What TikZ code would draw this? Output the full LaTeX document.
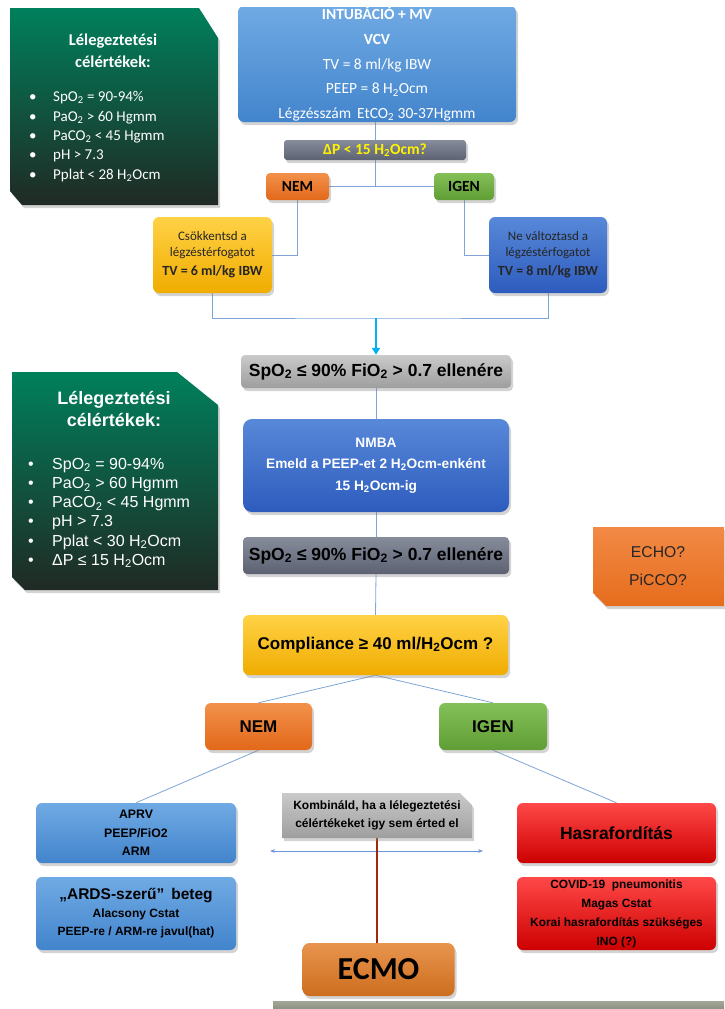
\documentclass[tikz,border=0pt]{standalone}
\usepackage{fontspec}
\setmainfont{Carlito}
\newfontfamily\arialf{Liberation Sans}
\usetikzlibrary{shadows,backgrounds,shapes.misc,arrows.meta}
\definecolor{celtop}{RGB}{0,128,92}
\definecolor{celbot}{RGB}{32,42,36}
\definecolor{kektop}{RGB}{112,170,228}
\definecolor{kekbot}{RGB}{66,132,204}
\definecolor{sotetkektop}{RGB}{88,136,216}
\definecolor{sotetkekbot}{RGB}{45,92,190}
\definecolor{palatop}{RGB}{135,140,155}
\definecolor{palabot}{RGB}{92,98,114}
\definecolor{szurketop}{RGB}{202,202,202}
\definecolor{szurkebot}{RGB}{158,158,158}
\definecolor{nemtop}{RGB}{242,145,75}
\definecolor{nembot}{RGB}{226,104,26}
\definecolor{igentop}{RGB}{132,192,88}
\definecolor{igenbot}{RGB}{95,158,52}
\definecolor{sargatop}{RGB}{255,210,70}
\definecolor{sargabot}{RGB}{240,172,0}
\definecolor{pirostop}{RGB}{255,72,72}
\definecolor{pirosbot}{RGB}{205,0,0}
\definecolor{ecmotop}{RGB}{232,148,78}
\definecolor{ecmobot}{RGB}{204,110,30}
\definecolor{echotop}{RGB}{242,138,70}
\definecolor{echobot}{RGB}{230,108,28}
\definecolor{vonal}{RGB}{125,165,215}
\definecolor{nyilkek}{RGB}{0,176,240}
\definecolor{bordo}{RGB}{158,42,12}
\definecolor{savszin}{RGB}{140,145,128}
\newcommand{\pont}{\makebox[24pt][l]{•}}
\tikzset{
  shadowed/.style={drop shadow={opacity=.35,shadow xshift=2pt,shadow yshift=-3pt}},
  box/.style={rounded corners=6pt,shadowed,align=center,inner sep=0pt},
  kapocs/.style={draw=vonal,line width=.8pt},
  celtext/.style={text=white,align=center,inner sep=0pt}
}
\begin{document}
\begin{tikzpicture}[x=1pt,y=-1pt]
\useasboundingbox (0,0) rectangle (724,1009);

% celertekek
\shade[top color=celtop,bottom color=celbot,shadowed](10,8)--(199,8)--(218,38)--(218,205)--(22,205)--(10,191)--cycle;
\node[celtext,font=\bfseries\fontsize{16.5}{22}\selectfont](cim1) at (113,51){Lélegeztetési\\célértékek:};
\node[celtext,anchor=west,align=left,font=\fontsize{15}{19.3}\selectfont](lista1) at (29,136.5){\pont SpO\textsubscript{2} = 90-94\%\\\pont PaO\textsubscript{2} > 60 Hgmm\\\pont PaCO\textsubscript{2} < 45 Hgmm\\\pont pH > 7.3\\\pont Pplat < 28 H\textsubscript{2}Ocm};

\shade[top color=celtop,bottom color=celbot,shadowed](12,372)--(177,372)--(218,405)--(218,590)--(25,590)--(12,577)--cycle;
\node[celtext,font=\arialf\bfseries\fontsize{18}{22}\selectfont](cim2) at (114,409){Lélegeztetési\\célértékek:};
\node[celtext,anchor=west,align=left,font=\arialf\fontsize{16}{19.2}\selectfont](lista2) at (28,513){\pont SpO\textsubscript{2} = 90-94\%\\\pont PaO\textsubscript{2} > 60 Hgmm\\\pont PaCO\textsubscript{2} < 45 Hgmm\\\pont pH > 7.3\\\pont Pplat < 30 H\textsubscript{2}Ocm\\\pont ΔP ≤ 15 H\textsubscript{2}Ocm};

% felso resz
\begin{scope}
\clip (0,7) rectangle (724,300);
\node[box,top color=kektop,bottom color=kekbot,text=white,minimum width=278,minimum height=116,font=\fontsize{15.5}{24.8}\selectfont](intub) at (377,64){\textbf{INTUBÁCIÓ + MV}\\\textbf{VCV}\\TV = 8 ml/kg IBW\\PEEP = 8 H\textsubscript{2}Ocm\\Légzésszám\ \,EtCO\textsubscript{2} 30-37Hgmm};
\end{scope}
\node[box,rounded corners=3pt,top color=palatop,bottom color=palabot,text=yellow,minimum width=182,minimum height=20,font=\bfseries\fontsize{15.5}{17}\selectfont](dp) at (375,150){ΔP < 15 H\textsubscript{2}Ocm?};
\node[box,rounded corners=4pt,top color=nemtop,bottom color=nembot,minimum width=63,minimum height=27,font=\bfseries\fontsize{15.5}{17}\selectfont](nem1) at (297.5,186.5){NEM};
\node[box,rounded corners=4pt,top color=igentop,bottom color=igenbot,minimum width=60,minimum height=27,font=\bfseries\fontsize{15.5}{17}\selectfont](igen1) at (464,186.5){IGEN};
\node[box,top color=sargatop,bottom color=sargabot,text=black!85,minimum width=119,minimum height=76,font=\fontsize{13}{15.5}\selectfont](csok) at (212.5,255){Csökkentsd a\\légzéstérfogatot\\[4pt]{\fontsize{14}{15.5}\selectfont\textbf{TV = 6 ml/kg IBW}}};
\node[box,top color=sotetkektop,bottom color=sotetkekbot,text=black!85,minimum width=118,minimum height=76,font=\fontsize{13}{15.5}\selectfont](nevalt) at (548,255){Ne változtasd a\\légzéstérfogatot\\[4pt]{\fontsize{14}{15.5}\selectfont\textbf{TV = 8 ml/kg IBW}}};
\coordinate (gyujto) at (376,318);

% also resz
\node[box,rounded corners=4pt,top color=szurketop,bottom color=szurkebot,minimum width=270,minimum height=33,font=\arialf\bfseries\fontsize{17.5}{19}\selectfont](spo1) at (376,371.5){SpO\textsubscript{2} ≤ 90\% FiO\textsubscript{2} > 0.7 ellenére};
\node[box,rounded corners=9pt,top color=sotetkektop,bottom color=sotetkekbot,text=white,minimum width=266,minimum height=93,font=\arialf\bfseries\fontsize{13.7}{21.5}\selectfont](nmba) at (376,465.5){NMBA\\Emeld a PEEP-et 2 H\textsubscript{2}Ocm-enként\\15 H\textsubscript{2}Ocm-ig};
\node[box,rounded corners=4pt,top color=palatop,bottom color=palabot,minimum width=266,minimum height=37,font=\arialf\bfseries\fontsize{17.5}{19}\selectfont](spo2) at (376,555.5){SpO\textsubscript{2} ≤ 90\% FiO\textsubscript{2} > 0.7 ellenére};
\node[box,top color=sargatop,bottom color=sargabot,minimum width=265,minimum height=60,font=\arialf\bfseries\fontsize{17}{19}\selectfont](comp) at (375.5,645){Compliance ≥ 40 ml/H\textsubscript{2}Ocm ?};
\node[box,top color=nemtop,bottom color=nembot,minimum width=107,minimum height=47,font=\arialf\bfseries\fontsize{17}{19}\selectfont](nem2) at (258.5,726.5){NEM};
\node[box,top color=igentop,bottom color=igenbot,minimum width=108,minimum height=47,font=\arialf\bfseries\fontsize{17}{19}\selectfont](igen2) at (493,726.5){IGEN};

\node[box,top color=kektop,bottom color=kekbot,minimum width=200,minimum height=60,font=\arialf\bfseries\fontsize{12.3}{18.5}\selectfont](aprv) at (136,833){APRV\\PEEP/FiO2\\ARM};
\node[box,top color=kektop,bottom color=kekbot,minimum width=200,minimum height=73,font=\arialf\bfseries\fontsize{12}{18}\selectfont](ards) at (136,913.5){{\fontsize{15.5}{18}\selectfont „ARDS-szerű”\, beteg}\\Alacsony Cstat\\PEEP-re / ARM-re javul(hat)};
\node[chamfered rectangle,chamfered rectangle corners=north east,chamfered rectangle xsep=6pt,chamfered rectangle ysep=6pt,shadowed,top color=szurketop,bottom color=szurkebot,align=center,inner sep=0pt,minimum width=190,minimum height=45,font=\arialf\bfseries\fontsize{12}{18}\selectfont](kombi) at (377,815.5){Kombináld, ha a lélegeztetési\\célértékeket igy sem érted el};
\node[box,top color=pirostop,bottom color=pirosbot,minimum width=199,minimum height=60,font=\arialf\bfseries\fontsize{17.5}{19}\selectfont](hasra) at (616.5,833){Hasrafordítás};
\node[box,top color=pirostop,bottom color=pirosbot,minimum width=199,minimum height=73,font=\arialf\bfseries\fontsize{11.9}{19}\selectfont](covid) at (616.5,913.5){COVID-19\ \ pneumonitis\\Magas Cstat\\Korai hasrafordítás szükséges\\INO (?)};
\node[box,rounded corners=7pt,top color=ecmotop,bottom color=ecmobot,minimum width=152,minimum height=53,font=\bfseries\fontsize{32}{34}\selectfont](ecmo) at (378.5,969.5){ECMO};
\coordinate (bal) at (270,851);
\coordinate (jobb) at (483,851);

% echo
\shade[top color=echotop,bottom color=echobot,shadowed](593,527)--(724,527)--(724,606)--(606,606)--(593,593)--cycle;
\node[align=center,inner sep=0pt,text=black!85,font=\arialf\fontsize{15.7}{28}\selectfont](echo) at (658,566){ECHO?\\PiCCO?};

\fill[top color=savszin!80,bottom color=savszin](273,1001) rectangle (724,1009);

\begin{scope}[on background layer]
\draw[kapocs](intub.south -| dp.north)--(dp.north);
\draw[kapocs](dp.south)--(dp.south |- nem1.east);
\draw[kapocs](nem1.east)--(igen1.west);
\draw[kapocs](nem1.south) |- (csok.east);
\draw[kapocs](igen1.south) |- (nevalt.west);
\draw[kapocs](csok.south) |- (gyujto) -| (nevalt.south);
\draw[nyilkek,line width=2.2pt,-{Triangle[length=7pt,width=8pt]}](gyujto)--(spo1.north);
\draw[kapocs](spo1.south)--(nmba.north);
\draw[kapocs](nmba.south)--(spo2.north);
\draw[kapocs](spo2.south)--(comp.north);
\draw[kapocs](comp.south)--(nem2.north);
\draw[kapocs](comp.south)--(igen2.north);
\draw[kapocs](nem2.south)--(aprv.north);
\draw[kapocs](igen2.south)--(hasra.north);
\draw[vonal!90!blue,line width=.9pt,{Stealth[length=5pt]}-{Stealth[length=5pt]}](bal)--(jobb);
\draw[bordo,line width=2.5pt](kombi.south)--(kombi.south |- ecmo.north);
\end{scope}
\end{tikzpicture}
\end{document}
